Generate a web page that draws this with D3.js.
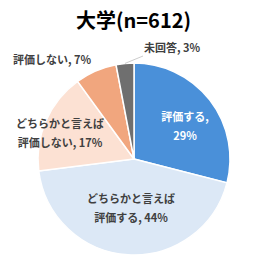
<!DOCTYPE html>
<html lang="ja">
<head>
<meta charset="utf-8">
<title>大学(n=612)</title>
<script src="https://d3js.org/d3.v7.min.js"></script>
<style>
  body { margin: 0; background: #fff; }
  text { font-family: "Noto Sans CJK JP", "Noto Sans", sans-serif; }
</style>
</head>
<body>
<div id="chart"></div>
<script>
var categories = ['評価する', 'どちらかと言えば評価する', 'どちらかと言えば評価しない', '評価しない', '未回答'];
var values = [29, 44, 17, 7, 3];
var colors = ['#4a90d9', '#dce8f6', '#fce1d3', '#f1a67e', '#6f6f6f'];
// label lines per slice, plus where each label sits
var labelLines = [
  ['評価する,', '29%'],
  ['どちらかと言えば', '評価する, 44%'],
  ['どちらかと言えば', '評価しない, 17%'],
  ['評価しない, 7%'],
  ['未回答, 3%']
];
var labelPos = [[185, 121], [131, 203], [60, 128], [52, 64], [172, 52]];
var labelFill = ['#ffffff', '#404040', '#404040', '#404040', '#404040'];

var width = 267, height = 267,
    cx = 134, cy = 159, radius = 96;

var svg = d3.select('#chart').append('svg')
  .attr('width', width)
  .attr('height', height);

svg.append('text')
  .attr('x', width / 2)
  .attr('y', 28)
  .attr('text-anchor', 'middle')
  .style('font-size', '20px')
  .style('font-weight', 'bold')
  .attr('fill', '#000')
  .text('大学(n=612)');

var pie = d3.pie().sort(null).value(function(d) { return d; });
var arc = d3.arc().innerRadius(0).outerRadius(radius);

var g = svg.append('g').attr('transform', 'translate(' + cx + ',' + cy + ')');

g.selectAll('path')
  .data(pie(values))
  .enter()
  .append('path')
  .attr('d', arc)
  .attr('fill', function(d, i) { return colors[i]; })
  .attr('stroke', '#fff')
  .attr('stroke-width', 1.5);

// leader line for the small slice
var small = pie(values)[4];
var mid = (small.startAngle + small.endAngle) / 2;
svg.append('line')
  .attr('x1', cx + Math.sin(mid) * radius)
  .attr('y1', cy - Math.cos(mid) * radius)
  .attr('x2', 143)
  .attr('y2', 56)
  .attr('stroke', '#bfbfbf')
  .attr('stroke-width', 0.8);

labelLines.forEach(function(lines, i) {
  var t = svg.append('text')
    .attr('text-anchor', 'middle')
    .attr('fill', labelFill[i])
    .style('font-size', '11px')
    .style('font-weight', 'bold');
  lines.forEach(function(s, j) {
    t.append('tspan')
      .attr('x', labelPos[i][0])
      .attr('y', labelPos[i][1] + j * 19)
      .text(s);
  });
});
</script>
</body>
</html>
